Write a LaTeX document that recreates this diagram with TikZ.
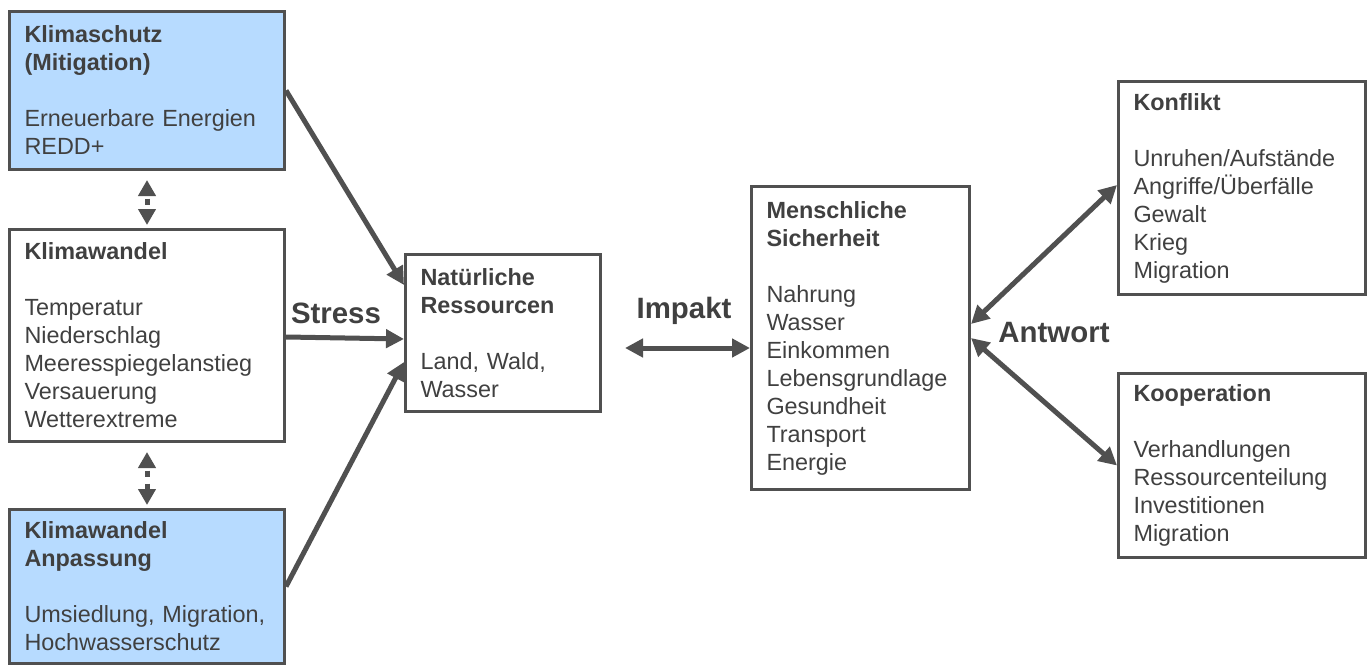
\documentclass[tikz,border=0pt]{standalone}
\usepackage{fontspec}
\setmainfont{Liberation Sans}
\usetikzlibrary{arrows.meta}
\definecolor{boxblue}{RGB}{183,219,255}
\definecolor{linegray}{RGB}{80,80,80}
\definecolor{txtgray}{RGB}{64,64,64}

\begin{document}
\begin{tikzpicture}[x=1pt,y=-1pt,
    >={Triangle[length=18pt,width=18pt]},
    box/.style={draw=linegray, line width=3pt, anchor=north west, align=left,
        inner xsep=15pt, inner ysep=0pt, text=txtgray,
        font=\fontsize{23.4}{28}\selectfont},
    arr/.style={draw=linegray, line width=5pt},
    dotarr/.style={draw=linegray, line width=5pt,
        {Triangle[length=16pt,width=17pt]}-{Triangle[length=16pt,width=17pt]},
        dash pattern=on 6pt off 7pt, dash phase=9.5pt},
    lbl/.style={text=txtgray, font=\fontsize{29.4}{34}\bfseries\selectfont}]
    \useasboundingbox (0,0) rectangle (1372,666);
    % left column
    \node[box, fill=boxblue, minimum width=275pt, minimum height=158pt, text width=245pt] (mitig) at (8,10)
        {\textbf{Klimaschutz}\\\textbf{(Mitigation)}\\[28pt]Erneuerbare Energien\\REDD+};
    \node[box, minimum width=275pt, minimum height=212pt, text width=245pt] (klima) at (8,228)
        {\textbf{Klimawandel}\\[28pt]Temperatur\\Niederschlag\\Meeresspiegelanstieg\\Versauerung\\Wetterextreme};
    \node[box, fill=boxblue, minimum width=275pt, minimum height=154pt, text width=245pt] (anpas) at (8,508)
        {\textbf{Klimawandel}\\\textbf{Anpassung}\\[28pt]Umsiedlung, Migration,\\Hochwasserschutz};
    % middle
    \node[box, minimum width=195pt, minimum height=157pt, text width=165pt] (nat) at (404,253)
        {\textbf{Natürliche}\\\textbf{Ressourcen}\\[28pt]Land, Wald,\\Wasser};
    \node[box, minimum width=218pt, minimum height=303pt, text width=188pt] (mensch) at (750,185)
        {\textbf{Menschliche}\\\textbf{Sicherheit}\\[28pt]Nahrung\\Wasser\\Einkommen\\Lebensgrundlage\\Gesundheit\\Transport\\Energie};
    % right column
    \node[box, minimum width=247pt, minimum height=213pt, text width=217pt] (konf) at (1117,80)
        {\textbf{Konflikt}\\[28pt]Unruhen/Aufstände\\Angriffe/Überfälle\\Gewalt\\Krieg\\Migration};
    \node[box, minimum width=247pt, minimum height=184pt, text width=217pt] (koop) at (1117,372)
        {\textbf{Kooperation}\\[28pt]Verhandlungen\\Ressourcenteilung\\Investitionen\\Migration};

    \node[lbl] (stress) at (336,313) {Stress};
    \node[lbl] (impakt) at (684,311) {Impakt};
    \node[lbl] (antwort) at (1054,333) {Antwort};
    \coordinate (impL) at (625,348);

    \draw[dotarr, shorten <=9pt, shorten >=3pt] (mitig.south) -- (klima.north);
    \draw[dotarr, shorten <=9pt, shorten >=3pt] (klima.south) -- (anpas.north);

    \draw[arr,->] (mitig.east) -- ([yshift=48pt]nat.west);
    \draw[arr,->] (klima.east |- 0,337) -- ([yshift=-6pt]nat.west);
    \draw[arr,->] (anpas.east) -- ([yshift=-29pt]nat.west);
    \draw[arr,<->] (impL) -- (mensch.west |- impL);
    \draw[arr,<->] ([yshift=14pt]mensch.east) -- ([yshift=3pt]konf.west);
    \draw[arr,<->] (mensch.east) -- (koop.west);
\end{tikzpicture}
\end{document}
